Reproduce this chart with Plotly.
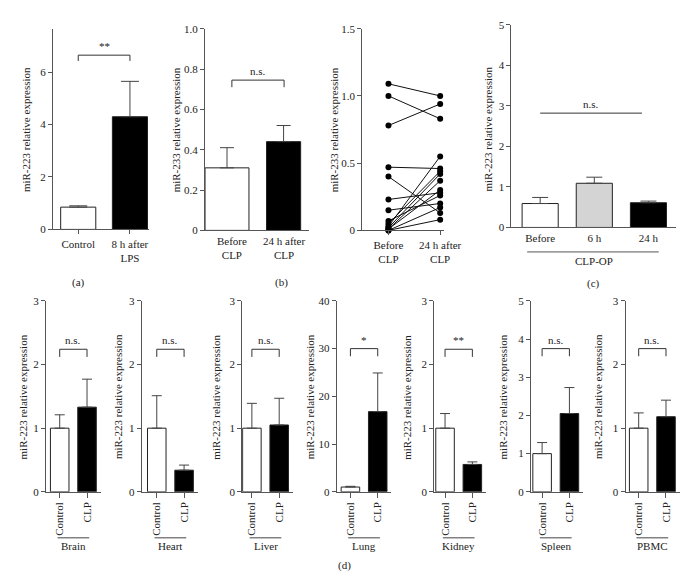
import plotly.graph_objects as go

W, H = 695, 575
FONT = "Liberation Serif, Times New Roman, serif"
TXT = "#222222"
LINE = "#555555"

# ---------------- data ----------------
# Panel (a)
a_cats = ["Control", "8 h after<br>LPS"]
a_vals = [0.85, 4.30]
a_err_top = [0.90, 5.65]
a_sig = "**"
a_bracket = 6.65

# Panel (b)
b_cats = ["Before<br>CLP", "24 h after<br>CLP"]
b_vals = [0.31, 0.44]
b_err_top = [0.41, 0.52]
b_sig = "n.s."
b_bracket = 0.745

# Paired panel (b)
p_cats = ["Before<br>CLP", "24 h after<br>CLP"]
p_before = [1.09, 1.00, 0.78, 0.47, 0.40, 0.23, 0.15, 0.07, 0.05, 0.03, 0.02, 0.01, 0.01, 0.00, 0.00]
p_after = [1.00, 0.83, 0.94, 0.46, 0.13, 0.28, 0.20, 0.26, 0.44, 0.55, 0.42, 0.37, 0.30, 0.17, 0.08]

# Panel (c)
c_cats = ["Before", "6 h", "24 h"]
c_vals = [0.59, 1.09, 0.61]
c_err_top = [0.74, 1.24, 0.65]
c_sig = "n.s."
c_line_y = 2.82
c_group = "CLP-OP"

# Panel (d)
d_organs = ["Brain", "Heart", "Liver", "Lung", "Kidney", "Spleen", "PBMC"]
d_cats = ["Control", "CLP"]
d_ctrl = [1.0, 1.0, 1.0, 1.0, 1.0, 1.0, 1.0]
d_ctrl_err_top = [1.21, 1.51, 1.39, 1.15, 1.23, 1.29, 1.24]
d_clp = [1.33, 0.34, 1.05, 16.8, 0.43, 2.05, 1.18]
d_clp_err_top = [1.77, 0.42, 1.47, 24.9, 0.47, 2.73, 1.44]
d_ymax = [3, 3, 3, 40, 3, 5, 3]
d_ystep = [1, 1, 1, 10, 1, 1, 1]
d_sig = ["n.s.", "n.s.", "n.s.", "*", "**", "n.s.", "n.s."]
d_bracket = [2.24, 2.24, 2.24, 30.0, 2.24, 3.75, 2.25]

YT223 = "miR-223 relative expression"
YT233 = "miR-233 relative expression"

# ---------------- layout geometry (pixels) ----------------
fig = go.Figure()
layout = dict(width=W, height=H, margin=dict(l=0, r=0, t=0, b=0),
              paper_bgcolor="white", plot_bgcolor="white", showlegend=False,
              font=dict(family=FONT, size=11, color=TXT))
shapes, annots = [], []


def px_x(x):
    return x / W


def px_y(y):
    return 1 - y / H


def axnames(i):
    s = "" if i == 1 else str(i)
    return "xaxis" + s, "yaxis" + s, "x" + s, "y" + s


def add_axes(i, xl, xr, yt, yb, xrange, yrange, yvals, ytext, xticks="outside",
             tickangle=0, ticklen=4):
    xn, yn, xa, ya = axnames(i)
    layout[xn] = dict(domain=[px_x(xl), px_x(xr)], anchor=ya, type="category",
                      range=xrange, showline=True, linecolor=LINE, linewidth=1,
                      showgrid=False, zeroline=False, ticks=xticks, ticklen=ticklen,
                      tickcolor=LINE, tickangle=tickangle,
                      tickfont=dict(family=FONT, size=11, color=TXT), fixedrange=True)
    layout[yn] = dict(domain=[px_y(yb), px_y(yt)], anchor=xa, range=yrange,
                      showline=True, linecolor=LINE, linewidth=1, showgrid=False,
                      zeroline=False, ticks="outside", ticklen=4, tickcolor=LINE,
                      tickvals=yvals, ticktext=ytext,
                      tickfont=dict(family=FONT, size=11, color=TXT), fixedrange=True)
    return xa, ya


def add_bars(xa, ya, cats, vals, tops, fills, width, cap, offset=None):
    kw = {}
    if offset is not None:
        kw["offset"] = offset
    fig.add_trace(go.Bar(
        x=cats, y=vals, xaxis=xa, yaxis=ya, width=width,
        marker=dict(color=fills, line=dict(color="#222222", width=1)),
        error_y=dict(type="data", symmetric=False,
                     array=[t - v for t, v in zip(tops, vals)],
                     arrayminus=[0] * len(vals), color="#444444",
                     thickness=1, width=cap),
        hoverinfo="skip", **kw))


def add_bracket(xa, ya, x0, x1, y, drop, label):
    shapes.append(dict(type="line", xref=xa, yref=ya, x0=x0, x1=x1, y0=y, y1=y,
                       line=dict(color="#333333", width=1)))
    for xx in (x0, x1):
        shapes.append(dict(type="line", xref=xa, yref=ya, x0=xx, x1=xx, y0=y, y1=y - drop,
                           line=dict(color="#333333", width=1)))
    annots.append(dict(xref=xa, yref=ya, x=(x0 + x1) / 2, y=y, text=label,
                       showarrow=False, yanchor="bottom", yshift=1,
                       font=dict(family=FONT, size=11, color=TXT)))


def ytitle(xpx, ycen, text):
    annots.append(dict(xref="paper", yref="paper", x=px_x(xpx), y=px_y(ycen),
                       text=text, textangle=-90, showarrow=False,
                       xanchor="center", yanchor="middle",
                       font=dict(family=FONT, size=11, color=TXT)))


def plabel(xpx, ypx, text):
    annots.append(dict(xref="paper", yref="paper", x=px_x(xpx), y=px_y(ypx),
                       text=text, showarrow=False, xanchor="center", yanchor="middle",
                       font=dict(family=FONT, size=11, color=TXT)))


# ---------------- Panel (a) ----------------
A, c0, c1, end = 46, 72, 125, 145
u = c1 - c0
xa, ya = add_axes(1, A, end, 15, 220, [-(c0 - A) / u, 1 + (end - c1) / u], [0, 7.66],
                  [0, 2, 4, 6], ["0", "2", "4", "6"])
add_bars(xa, ya, a_cats, a_vals, a_err_top, ["white", "black"], 36 / u, 9)
add_bracket(xa, ya, 0, 1, a_bracket, 0.22, a_sig)
ytitle(18, 118, YT223)
plabel(72, 274, "(a)")

# ---------------- Panel (b) ----------------
A, c0, c1, end = 202, 229.5, 283, 309
u = c1 - c0
xa, ya = add_axes(2, A, end, 15, 221, [-(c0 - A) / u, 1 + (end - c1) / u], [0, 1.0],
                  [0, 0.2, 0.4, 0.6, 0.8, 1.0], ["0", "0.2", "0.4", "0.6", "0.8", "1.0"],
                  xticks="")
add_bars(xa, ya, b_cats, b_vals, b_err_top, ["white", "black"],
         [45 / u, 35 / u], 7, offset=[(202 - c0) / u, (265 - c1) / u])
add_bracket(xa, ya, 0, 1, b_bracket, 0.035, b_sig)
ytitle(172, 118, YT233)
plabel(280, 274, "(b)")

# ---------------- Paired panel ----------------
A, c0, c1, end = 363, 390, 443, 447
u = c1 - c0
xa, ya = add_axes(3, A, end, 15, 221, [-(c0 - A) / u, 1 + (end - c1) / u], [0, 1.5],
                  [0, 0.5, 1.0, 1.5], ["0", "0.5", "1.0", "1.5"])
px_, py_ = [], []
for bv, av in zip(p_before, p_after):
    px_ += [p_cats[0], p_cats[1], None]
    py_ += [bv, av, None]
fig.add_trace(go.Scatter(x=px_, y=py_, xaxis=xa, yaxis=ya, mode="lines+markers",
                         line=dict(color="#111111", width=1),
                         marker=dict(color="black", size=6, symbol="circle"),
                         cliponaxis=False, connectgaps=False, hoverinfo="skip"))
ytitle(334, 118, YT233)

# ---------------- Panel (c) ----------------
A, c0, end = 516, 545.5, 685
u = 55.5
xa, ya = add_axes(4, A, end, 11, 218, [-(c0 - A) / u, 2 + (end - (c0 + 2 * u)) / u], [0, 5],
                  [0, 1, 2, 3, 4, 5], ["0", "1", "2", "3", "4", "5"], xticks="")
add_bars(xa, ya, c_cats, c_vals, c_err_top, ["white", "#d4d4d4", "black"], 37 / u, 8)
shapes.append(dict(type="line", xref=xa, yref=ya, x0=0, x1=1.88, y0=c_line_y, y1=c_line_y,
                   line=dict(color="#333333", width=1)))
annots.append(dict(xref=xa, yref=ya, x=0.94, y=c_line_y, text=c_sig, showarrow=False,
                   yanchor="bottom", yshift=1, font=dict(family=FONT, size=11, color=TXT)))
shapes.append(dict(type="line", xref=xa, yref="paper", x0=-0.24, x1=2.19,
                   y0=px_y(243), y1=px_y(243), line=dict(color="#555555", width=1)))
annots.append(dict(xref=xa, yref="paper", x=1, y=px_y(252), text=c_group, showarrow=False,
                   yanchor="middle", font=dict(family=FONT, size=11, color=TXT)))
ytitle(492, 117, YT223)
plabel(600, 275, "(c)")

# ---------------- Panel (d) ----------------
d_axis_x = [39, 137, 240, 337, 437, 536, 633]
d_c0 = [53, 152.5, 250, 351, 448, 547.5, 646.5]
d_title_x = [15, 113, 213, 309, 409, 507, 605]
u = 28
for k in range(7):
    A = d_axis_x[k]
    c0 = d_c0[k]
    end = c0 + 42
    ymax, step = d_ymax[k], d_ystep[k]
    vals = list(range(0, ymax + 1, step))
    xa, ya = add_axes(5 + k, A, end, 293, 488, [-(c0 - A) / u, 1.5], [0, ymax],
                      vals, [str(v) for v in vals], tickangle=-90, ticklen=5)
    add_bars(xa, ya, d_cats, [d_ctrl[k], d_clp[k]], [d_ctrl_err_top[k], d_clp_err_top[k]],
             ["white", "black"], 19 / u, 5)
    add_bracket(xa, ya, 0, 1, d_bracket[k], ymax * 0.04, d_sig[k])
    shapes.append(dict(type="line", xref=xa, yref="paper", x0=-0.08, x1=1.08,
                       y0=px_y(535), y1=px_y(535), line=dict(color="#444444", width=1)))
    annots.append(dict(xref=xa, yref="paper", x=0.5, y=px_y(543), text=d_organs[k],
                       showarrow=False, yanchor="middle",
                       font=dict(family=FONT, size=11, color=TXT)))
    ytitle(d_title_x[k], 391, YT223)

plabel(345, 563, "(d)")

layout["shapes"] = shapes
layout["annotations"] = annots
fig.update_layout(**layout)
fig.write_html("out.html")
